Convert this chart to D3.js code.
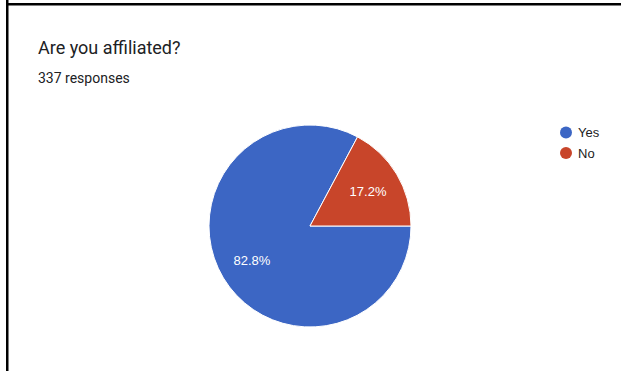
<!DOCTYPE html>
<html>
<head>
<meta charset="utf-8">
<script src="https://cdn.jsdelivr.net/npm/d3@7/dist/d3.min.js"></script>
<style>
  html, body { margin: 0; padding: 0; background: #fff; }
  svg { display: block; }
</style>
</head>
<body>
<svg id="chart" width="621" height="371"></svg>
<script>
// Survey question and answers
const title = "Are you affiliated?";
const responseCount = 337;
const categories = ["Yes", "No"];
const shares = [82.8, 17.2];
const colors = ["#3c66c4", "#c8452a"];

const svg = d3.select("#chart");
const W = 621, H = 371;

// Card frame edges
svg.append("rect").attr("x", 6).attr("y", 0).attr("width", 2.5).attr("height", H).attr("fill", "#000");
svg.append("rect").attr("x", 6).attr("y", 3).attr("width", W - 6).attr("height", 2.5).attr("fill", "#000");

// Heading
svg.append("text")
  .attr("x", 38).attr("y", 53.5)
  .attr("font-family", "Roboto, sans-serif")
  .attr("font-size", 18)
  .attr("fill", "#202124")
  .text(title);

svg.append("text")
  .attr("x", 38).attr("y", 83)
  .attr("font-family", "Roboto, sans-serif")
  .attr("font-size", 14)
  .attr("fill", "#202124")
  .text(`${responseCount} responses`);

// Pie
const cx = 310, cy = 226, r = 101;
const data = categories.map((c, i) => ({ name: c, value: shares[i], color: colors[i] }));

const pie = d3.pie()
  .sort(null)
  .value(d => d.value)
  .startAngle(Math.PI / 2)
  .endAngle(Math.PI / 2 + 2 * Math.PI);

const arcs = pie(data);
const arc = d3.arc().innerRadius(0).outerRadius(r);
const labelArc = d3.arc().innerRadius(r * 0.67).outerRadius(r * 0.67);

const g = svg.append("g").attr("transform", `translate(${cx},${cy})`);

g.selectAll("path.slice")
  .data(arcs)
  .join("path")
  .attr("class", "slice")
  .attr("d", arc)
  .attr("fill", d => d.data.color)
  .attr("stroke", "#fff")
  .attr("stroke-width", 1);

g.selectAll("text.pct")
  .data(arcs)
  .join("text")
  .attr("class", "pct")
  .attr("transform", d => `translate(${labelArc.centroid(d)})`)
  .attr("text-anchor", "middle")
  .attr("dy", "0.36em")
  .attr("font-family", "Arial, 'Liberation Sans', sans-serif")
  .attr("font-size", 13)
  .attr("fill", "#fff")
  .text(d => d.data.value.toFixed(1) + "%");

// Legend
const legendY = d3.scalePoint().domain(categories).range([132.5, 153]);
const legend = svg.append("g");
const items = legend.selectAll("g")
  .data(data)
  .join("g")
  .attr("transform", d => `translate(566,${legendY(d.name)})`);

items.append("circle").attr("r", 6).attr("fill", d => d.color);
items.append("text")
  .attr("x", 12)
  .attr("dy", "0.36em")
  .attr("font-family", "Arial, 'Liberation Sans', sans-serif")
  .attr("font-size", 13)
  .attr("fill", "#222")
  .text(d => d.name);
</script>
</body>
</html>
